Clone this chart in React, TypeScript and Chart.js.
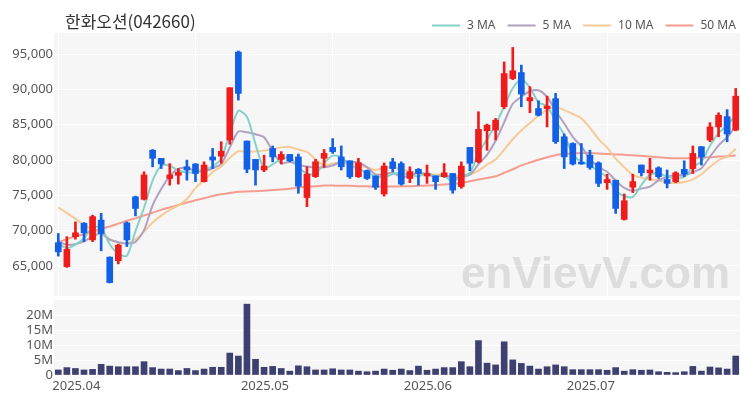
import React, { useEffect, useRef } from "react";
import { Chart, registerables } from "chart.js";
Chart.register(...registerables);

const title = "한화오션(042660)";

const dates = [
  "2025.04.01","2025.04.02","2025.04.03","2025.04.04","2025.04.07","2025.04.08","2025.04.09","2025.04.10","2025.04.11",
  "2025.04.14","2025.04.15","2025.04.16","2025.04.17","2025.04.18","2025.04.21","2025.04.22","2025.04.23","2025.04.24",
  "2025.04.25","2025.04.28","2025.04.29","2025.04.30",
  "2025.05.02","2025.05.07","2025.05.08","2025.05.09","2025.05.12","2025.05.13","2025.05.14","2025.05.15","2025.05.16",
  "2025.05.19","2025.05.20","2025.05.21","2025.05.22","2025.05.23","2025.05.26","2025.05.27","2025.05.28","2025.05.29","2025.05.30",
  "2025.06.02","2025.06.04","2025.06.05","2025.06.09","2025.06.10","2025.06.11","2025.06.12","2025.06.13","2025.06.16",
  "2025.06.17","2025.06.18","2025.06.19","2025.06.20","2025.06.23","2025.06.24","2025.06.25","2025.06.26","2025.06.27","2025.06.30",
  "2025.07.01","2025.07.02","2025.07.03","2025.07.04","2025.07.07","2025.07.08","2025.07.09","2025.07.10","2025.07.11",
  "2025.07.14","2025.07.15","2025.07.16","2025.07.17","2025.07.18","2025.07.21","2025.07.22","2025.07.23","2025.07.24",
  "2025.07.25","2025.07.28",
];

const opens = [
  68300,64900,69150,71050,68700,71500,66250,65750,71100,74800,74450,81400,80250,77400,77850,79050,79450,76950,80450,80550,
  82850,95300,82700,80100,78600,81650,80100,80800,80450,74700,77650,80250,81800,80450,79900,77650,78500,77750,75200,79750,
  79500,77400,78700,77750,77750,77650,78100,76250,81800,79750,84150,84250,87550,91550,92400,88400,87300,87300,88700,83300,
  82350,79700,80700,79600,76800,77150,71600,76150,79300,78200,78900,77250,76950,78700,78800,81900,82850,84700,86150,84250,
];
const highs = [
  69600,69150,71250,71150,72200,72450,66300,68100,71250,74900,78350,81500,80250,79500,78800,80000,79500,79750,81650,82600,
  90250,95450,82700,80100,80700,82000,81200,80800,80850,79050,80100,81500,83050,82000,79900,80250,78600,77750,79600,80250,
  79750,79050,78800,79300,77750,79500,78100,79750,81800,86850,85100,85900,93900,95950,93450,90400,88400,89050,89450,83700,
  82450,82350,81400,79750,78000,77150,75200,78000,79300,80250,79050,78600,78350,79900,82000,81900,85300,86700,87150,90150,
];
const lows = [
  66400,64800,68800,68450,68450,67150,62600,65300,67750,72100,74350,79050,78800,76450,76600,77150,76950,76900,78800,79550,
  82250,88500,78200,76450,78350,79750,79450,79750,75300,73400,77550,78950,80950,78600,77400,77550,77250,75850,74900,78350,
  76450,76800,76450,76700,75850,77550,75300,76000,78500,79600,81400,82850,87300,91400,87550,86700,86250,84700,82350,78800,
  79300,79400,78700,76250,75850,72450,71500,75400,77750,77150,77400,76050,76800,77650,78100,79300,82600,83300,82600,84150,
];
const closes = [
  67000,67350,69700,69700,72000,69600,62650,67950,68700,73150,77900,80250,79450,77900,78250,78600,78100,79300,80000,81250,
  90250,89450,78700,78600,79150,80450,80800,79900,76300,78000,79750,80950,81200,79050,77650,79600,77400,76150,79150,78800,
  76600,78350,78100,78100,76950,78200,75750,79150,79550,84350,84950,85650,92250,92650,89350,88850,86350,87650,82600,80450,
  79450,79450,78950,76700,77250,73150,74250,76950,78200,78600,77650,76700,78200,78000,80950,80450,84700,86350,83700,89050,
];
// volume in millions of shares
const volumes = [
  1.7,2.5,2.2,1.7,1.9,3.6,3.0,2.8,2.8,2.8,4.5,2.5,2.0,2.0,1.5,2.2,1.5,2.0,2.6,2.6,
  7.4,6.4,23.9,5.3,2.6,2.9,2.2,1.3,3.1,2.8,1.7,1.7,2.1,1.7,1.7,1.3,1.1,1.3,2.0,1.6,
  2.0,1.5,3.0,1.6,2.0,2.5,2.5,4.5,2.8,11.6,4.0,3.4,11.2,5.1,3.9,3.0,2.0,2.8,3.4,2.8,
  1.8,1.8,1.8,1.8,1.6,2.5,1.3,1.8,1.6,1.7,1.1,0.9,0.8,1.1,2.9,1.3,2.7,2.4,2.0,6.4,
];
const ma3 = [
  68200,67500,68020,68920,70470,70430,68080,66730,66430,69930,73250,77100,79200,79200,78530,78250,78320,78670,79130,80180,
  83830,86980,86130,82250,78820,79400,80130,80380,79000,78070,78020,79570,80630,80400,79300,78770,78220,77720,77570,78030,
  78180,77920,77680,78180,77720,77750,76970,77700,78150,81020,82950,84980,87620,90180,91420,90280,88180,87620,85530,83570,
  80830,79780,79280,78370,77630,75700,74880,74780,76470,77920,78150,77650,77520,77630,79050,79800,82030,83830,84920,86370,
];
const ma5 = [
  68500,68000,68100,68500,69150,69670,68730,68380,68180,68410,70070,73590,75890,77730,78750,78890,78460,78430,78850,79450,
  81780,84050,83930,83650,83230,81270,79540,79780,79320,79090,78950,78980,79240,79790,79720,79690,78980,77970,77990,78220,
  77620,77810,78200,77990,77620,77940,77420,77630,77920,79400,80750,82730,85350,87970,88970,89750,89890,88970,86960,85180,
  83300,81920,80180,79000,78360,77100,76060,75660,75960,76230,77130,77620,77870,77830,78300,78860,80460,82090,83230,84850,
];
const ma10 = [
  73300,72500,71700,70800,70200,69600,68800,68300,68200,68780,69870,71160,72140,72960,73580,74480,76030,77160,78290,79100,
  80340,81260,81180,81250,81340,81530,81800,81860,81490,81160,80110,79260,79510,79560,79410,79320,78980,78610,78890,78970,
  78660,78400,78090,77990,77920,77780,77620,77920,77960,78510,79350,80080,81490,82950,84190,85250,86310,87160,87470,87080,
  86530,85910,84580,82980,81770,80200,78990,77920,77480,77300,77120,76840,76770,76900,77270,78000,79040,79980,80530,81590,
];
const ma50 = [
  68400,68800,69200,69500,69900,70300,70600,71000,71400,71750,72150,72550,72950,73300,73650,74000,74300,74600,74900,75150,
  75350,75500,75550,75600,75650,75750,75850,75950,76100,76200,76300,76400,76400,76350,76350,76300,76300,76250,76250,76250,
  76300,76300,76350,76400,76450,76550,76600,76750,77000,77250,77450,77700,78200,78700,79250,79650,80050,80400,80700,80850,
  80950,81000,81000,80950,80850,80800,80750,80700,80600,80500,80400,80300,80250,80250,80300,80350,80400,80500,80550,80650,
];

const priceTicks = [65000, 70000, 75000, 80000, 85000, 90000, 95000];
const volumeTicks = [0, 5, 10, 15, 20];

const maNames = ["3 MA", "5 MA", "10 MA", "50 MA"];
const maColors = ["rgba(128,208,198,0.95)", "rgba(172,156,190,0.95)", "rgba(246,200,146,0.95)", "rgba(244,152,138,0.95)"];

const UP = "#ee1c1c";
const DOWN = "#1160e6";
const VOL = "#3e4170";
const BG = "#f6f6f6";
const FONT = "'Noto Sans', sans-serif";
const AXIS_W = 54;

const bgPlugin = {
  id: "bgFill",
  beforeDraw(chart: any) {
    const { ctx, chartArea: a } = chart;
    ctx.save();
    ctx.fillStyle = BG;
    ctx.fillRect(a.left, a.top, a.right - a.left, a.bottom - a.top);
    ctx.restore();
  },
};

const headerPlugin = {
  id: "header",
  beforeDatasetsDraw(chart: any) {
    const { ctx } = chart;
    ctx.save();
    ctx.font = "bold 44px Arial, sans-serif";
    ctx.fillStyle = "rgba(200,200,200,0.55)";
    ctx.textAlign = "right";
    ctx.textBaseline = "alphabetic";
    ctx.fillText("enVievV.com", 730, 288);
    ctx.restore();
  },
  afterDraw(chart: any) {
    const { ctx } = chart;
    ctx.save();
    ctx.font = "17px 'Noto Sans CJK KR', sans-serif";
    ctx.fillStyle = "#333";
    ctx.textAlign = "left";
    ctx.textBaseline = "alphabetic";
    ctx.fillText(title, 65, 28);
    ctx.font = "12px " + FONT;
    ctx.textBaseline = "middle";
    let x = 432;
    const y = 25.5;
    maNames.forEach((n, i) => {
      ctx.strokeStyle = maColors[i];
      ctx.lineWidth = 2;
      ctx.beginPath();
      ctx.moveTo(x, y);
      ctx.lineTo(x + 28, y);
      ctx.stroke();
      ctx.fillStyle = "#555";
      ctx.fillText(n, x + 35, y);
      x += 35 + ctx.measureText(n).width + 12;
    });
    ctx.restore();
  },
};

const candleColors = closes.map((c, i) => (c >= opens[i] ? UP : DOWN));

const fitY = (s: any) => {
  s.width = AXIS_W;
  s.paddingTop = 0;
  s.paddingBottom = 0;
};

export default function App() {
  const priceRef = useRef<HTMLCanvasElement>(null);
  const volRef = useRef<HTMLCanvasElement>(null);

  useEffect(() => {
    const maSets = [ma3, ma5, ma10, ma50].map((d, i) => ({
      type: "line" as const,
      label: maNames[i],
      data: d,
      borderColor: maColors[i],
      borderWidth: 2,
      pointRadius: 0,
      tension: 0.25,
      order: 5 + i,
    }));
    const price = new Chart(priceRef.current!, {
      type: "bar",
      data: {
        labels: dates,
        datasets: [
          {
            label: "body",
            data: opens.map((o, i) => [o, closes[i]]),
            backgroundColor: candleColors,
            barThickness: 6,
            grouped: false,
            order: 0,
          } as any,
          {
            label: "wick",
            data: lows.map((l, i) => [l, highs[i]]),
            backgroundColor: candleColors,
            barThickness: 2,
            grouped: false,
            order: 1,
          } as any,
          ...maSets,
        ],
      },
      options: {
        responsive: false,
        animation: false,
        devicePixelRatio: 1,
        layout: { padding: { top: 33, right: 10, bottom: 2, left: 0 } },
        plugins: { legend: { display: false }, tooltip: { enabled: false } },
        scales: {
          x: {
            display: true,
            offset: true,
            ticks: { display: false },
            grid: {
              offset: false,
              drawTicks: false,
              color: (c: any) => (c.index % 16 === 0 ? "#ffffff" : "rgba(0,0,0,0)"),
            },
            border: { display: false },
            afterFit: (s: any) => {
              s.height = 0;
              s.paddingLeft = 0;
              s.paddingRight = 0;
            },
          },
          y: {
            min: 60750,
            max: 98000,
            afterBuildTicks: (s: any) => {
              s.ticks = priceTicks.map((v) => ({ value: v }));
            },
            ticks: {
              autoSkip: false,
              padding: 1,
              color: "#555",
              font: { family: FONT, size: 13 },
              callback: (v: any) => Number(v).toLocaleString("en-US"),
            },
            grid: { color: "#ffffff", drawTicks: false },
            border: { display: false },
            afterFit: fitY,
          },
        },
      },
      plugins: [bgPlugin, headerPlugin],
    });

    const vol = new Chart(volRef.current!, {
      type: "bar",
      data: {
        labels: dates,
        datasets: [
          {
            label: "volume",
            data: volumes,
            backgroundColor: VOL,
            barThickness: 6,
          },
        ],
      },
      options: {
        responsive: false,
        animation: false,
        devicePixelRatio: 1,
        layout: { padding: { top: 2, right: 10, bottom: 0, left: 0 } },
        plugins: { legend: { display: false }, tooltip: { enabled: false } },
        scales: {
          x: {
            offset: true,
            ticks: {
              autoSkip: false,
              maxRotation: 0,
              align: "start",
              labelOffset: -6,
              padding: 3,
              color: "#555",
              font: { family: FONT, size: 13 },
              callback: (_v: any, idx: number) =>
                idx === 0 || dates[idx].slice(0, 7) !== dates[idx - 1].slice(0, 7) ? dates[idx].slice(0, 7) : "",
            },
            grid: { display: false, drawTicks: false },
            border: { display: false },
            afterFit: (s: any) => {
              s.height = 25;
              s.paddingLeft = 0;
              s.paddingRight = 0;
            },
          },
          y: {
            min: 0,
            max: 25.3,
            afterBuildTicks: (s: any) => {
              s.ticks = volumeTicks.map((v) => ({ value: v }));
            },
            ticks: {
              autoSkip: false,
              padding: 1,
              color: "#555",
              font: { family: FONT, size: 13 },
              callback: (v: any) => (Number(v) === 0 ? "0" : v + "M"),
            },
            grid: { color: "#ffffff", drawTicks: false },
            border: { display: false },
            afterFit: fitY,
          },
        },
      },
      plugins: [bgPlugin],
    });

    return () => {
      price.destroy();
      vol.destroy();
    };
  }, []);

  return (
    <div style={{ position: "fixed", left: 0, top: 0, width: 750, height: 400, background: "#fff" }}>
      <canvas ref={priceRef} width={750} height={298} style={{ position: "absolute", left: 0, top: 0, width: 750, height: 298 }} />
      <canvas ref={volRef} width={750} height={102} style={{ position: "absolute", left: 0, top: 298, width: 750, height: 102 }} />
    </div>
  );
}
